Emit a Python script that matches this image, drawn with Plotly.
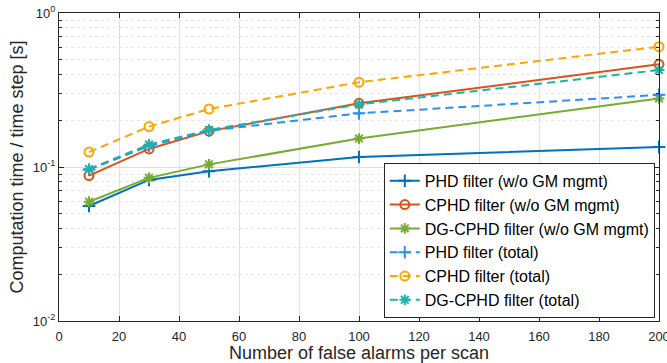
import plotly.graph_objects as go

false_alarms = [10, 30, 50, 100, 200]
phd_wo = [0.0558, 0.0824, 0.094, 0.116, 0.135]
cphd_wo = [0.088, 0.131, 0.171, 0.259, 0.464]
dgcphd_wo = [0.0595, 0.085, 0.104, 0.153, 0.279]
phd_total = [0.096, 0.137, 0.172, 0.223, 0.294]
cphd_total = [0.125, 0.183, 0.238, 0.355, 0.604]
dgcphd_total = [0.097, 0.140, 0.174, 0.255, 0.426]

names = ["PHD filter (w/o GM mgmt)", "CPHD filter (w/o GM mgmt)", "DG-CPHD filter (w/o GM mgmt)",
         "PHD filter (total)", "CPHD filter (total)", "DG-CPHD filter (total)"]
series = [phd_wo, cphd_wo, dgcphd_wo, phd_total, cphd_total, dgcphd_total]
colors = ["#0072BD", "#D95319", "#77AC30", "#2E8FF0", "#FFA500", "#20B2AA"]
symbols = ["cross-thin-open", "circle-open", "asterisk-open",
           "cross-thin-open", "circle-open", "asterisk-open"]
dashes = ["solid", "solid", "solid", "8px,5px", "8px,5px", "8px,5px"]

y_tickvals = [0.01, 0.1, 1]
y_ticktext = ["10<sup>-2</sup>", "10<sup>-1</sup>", "10<sup>0</sup>"]
x_tickvals = list(range(0, 201, 20))

fig = go.Figure()
for name, ys, c, s, d in zip(names, series, colors, symbols, dashes):
    fig.add_trace(go.Scatter(
        x=false_alarms, y=ys, name=name, mode="lines+markers",
        line=dict(color=c, width=2, dash=d),
        marker=dict(symbol=s, size=9, color=c, line=dict(color=c, width=2)),
        cliponaxis=False,
    ))

axis_common = dict(
    showline=True, linecolor="#262626", linewidth=1, mirror="ticks",
    ticks="inside", tickcolor="#262626", ticklen=5,
    tickfont=dict(family="Liberation Sans, Arial", size=13, color="#262626"),
    showgrid=True, gridcolor="#DFDFDF", gridwidth=1, zeroline=False,
    ticklabeloverflow="allow", automargin=False,
)

fig.update_layout(
    width=667, height=363,
    margin=dict(l=59, r=8, t=13, b=42, autoexpand=False),
    paper_bgcolor="white", plot_bgcolor="white",
    font=dict(family="Liberation Sans, Arial", color="#262626"),
    showlegend=True,
    legend=dict(
        x=0.993, y=0.01, xanchor="right", yanchor="bottom",
        bgcolor="white", bordercolor="#262626", borderwidth=1,
        font=dict(family="Liberation Sans, Arial", size=16, color="#000000"),
        tracegroupgap=0, itemwidth=30,
    ),
    xaxis=dict(
        range=[0, 200], tickvals=x_tickvals, ticklabelstandoff=3,
        title=dict(text="Number of false alarms per scan",
                   font=dict(size=18, color="#262626"), standoff=0),
        **axis_common,
    ),
    yaxis=dict(
        type="log", range=[-2, 0], tickvals=y_tickvals, ticktext=y_ticktext,
        title=dict(text="Computation time / time step [s]",
                   font=dict(size=18, color="#262626"), standoff=4),
        minor=dict(ticks="inside", ticklen=3, tickcolor="#262626",
                   showgrid=True, gridcolor="#E6E6E6", griddash="dot",
                   tickvals=[m * 10 ** e for e in (-2, -1) for m in range(2, 10)]),
        **axis_common,
    ),
)

fig.write_html("out.html")
